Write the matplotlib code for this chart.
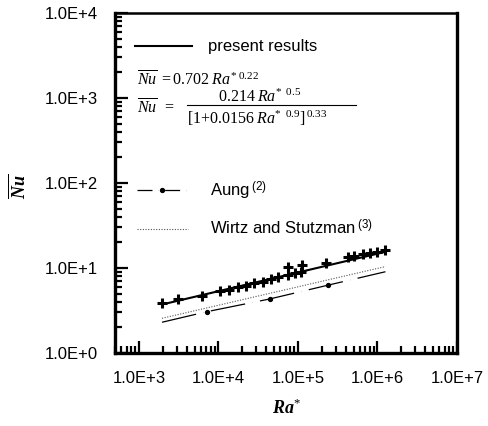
import numpy as np
import matplotlib
matplotlib.use("Agg")
import matplotlib.pyplot as plt
from matplotlib.lines import Line2D
from matplotlib.ticker import LogLocator, FuncFormatter, NullFormatter

plt.rcParams.update({
    "font.family": "Liberation Sans",
    "mathtext.fontset": "custom",
    "mathtext.rm": "Liberation Serif",
    "mathtext.it": "Liberation Serif:italic",
    "mathtext.bf": "Liberation Serif:bold",
    "mathtext.bfit": "Liberation Serif:bold:italic",
    "mathtext.sf": "Liberation Sans",
})

# measured points (present results)
ra_pts = [1950, 3080, 6170, 10400, 13500, 17400, 21900, 27700, 36000, 45300,
          55400, 74000, 76000, 93000, 108000, 114000, 222000, 420000, 500000,
          650000, 810000, 1000000, 1260000]
nu_pts = [3.84, 4.32, 4.72, 5.36, 5.51, 6.03, 6.18, 6.6, 6.9, 7.36,
          7.77, 10.4, 8.28, 8.66, 9.04, 10.8, 11.5, 13.6, 13.8,
          14.5, 15.1, 15.5, 16.3]

# correlation line of the present results (end points)
ra_fit = [1950, 1260000]
nu_fit = [3.72, 15.5]

# Aung (2)
ra_aung = [1950, 7130, 44000, 242000, 1260000]
nu_aung = [2.30, 3.06, 4.32, 6.30, 9.04]

# Wirtz and Stutzman (3)
ra_wirtz = [1950, 1260000]
nu_wirtz = [2.56, 10.4]


def sci_label(v, pos):
    return f"1.0E+{int(round(np.log10(v)))}"


fig = plt.figure(figsize=(4.89, 4.26), dpi=100)
ax = fig.add_axes([115 / 489, 1 - 353 / 426, 342 / 489, 340 / 426])

ax.plot(ra_fit, nu_fit, color="black", linewidth=1.5)
ax.plot(ra_pts, nu_pts, linestyle="none", marker="+", markersize=7.5,
        markeredgewidth=2.2, color="black")
ax.plot(ra_aung, nu_aung, color="black", linewidth=0.9,
        dashes=(28, 6, 0.1, 6), marker="o", markersize=2.8,
        markevery=[1, 2, 3])
ax.plot(ra_wirtz, nu_wirtz, color="#555555", linewidth=0.8,
        linestyle=(0, (1, 1.4)))

ax.set_xscale("log")
ax.set_yscale("log")
ax.set_xlim(500, 1e7)
ax.set_ylim(1, 1e4)

for a in (ax.xaxis, ax.yaxis):
    a.set_major_locator(LogLocator(base=10, numticks=10))
    a.set_minor_locator(LogLocator(base=10, subs=np.arange(2, 10), numticks=20))
    a.set_major_formatter(FuncFormatter(sci_label))
    a.set_minor_formatter(NullFormatter())

ax.tick_params(which="both", direction="in", top=False, right=False,
               labelsize=12, width=1.6)
ax.tick_params(which="major", length=9)
ax.tick_params(which="minor", length=5)
ax.tick_params(axis="x", which="major", pad=13)
ax.tick_params(axis="y", which="major", pad=12)

for side in ("left", "bottom", "right"):
    ax.spines[side].set_linewidth(2.4)
ax.spines["top"].set_linewidth(1.8)

ax.set_ylabel(r"$\overline{\mathbfit{Nu}}$", fontsize=13)
ax.yaxis.set_label_coords(-0.25, 0.49)
ax.set_xlabel(r"$\mathbfit{Ra}^{*}$", fontsize=13)
ax.xaxis.set_label_coords(0.5, -0.135)

# legend: present results
leg1 = ax.legend(handles=[Line2D([], [], color="black", linewidth=1.5)],
                 labels=["present results"], loc="center left",
                 bbox_to_anchor=(0.058, 0.90), frameon=False, fontsize=12,
                 handlelength=3.4, handletextpad=0.96, borderpad=0,
                 borderaxespad=0)
ax.add_artist(leg1)

# correlations
ax.text(0.064, 0.806, r"$\overline{Nu}\;=0.702\;Ra^{*\;0.22}$",
        transform=ax.transAxes, fontsize=11.5, va="center", ha="left")
ax.text(0.064, 0.722, r"$\overline{Nu}\;\;=$",
        transform=ax.transAxes, fontsize=11.5, va="center", ha="left")
ax.text(0.424, 0.755, r"$0.214\;Ra^{*\;\;0.5}$",
        transform=ax.transAxes, fontsize=11.5, va="center", ha="center")
ax.plot([0.211, 0.705], [0.730, 0.730], transform=ax.transAxes,
        color="black", linewidth=0.8)
ax.text(0.211, 0.690, r"$[1{+}0.0156\;Ra^{*\;\;0.9}]^{\,0.33}$",
        transform=ax.transAxes, fontsize=11.5, va="center", ha="left")

# legend: literature correlations
leg2 = ax.legend(
    handles=[Line2D([], [], color="black", linewidth=0.9,
                    dashes=(12, 5, 0.1, 5), marker="o", markersize=2.8),
             Line2D([], [], color="#555555", linewidth=0.8,
                    linestyle=(0, (1, 1.4)))],
    labels=[r"Aung$^{\;\mathsf{(2)}}$", r"Wirtz and Stutzman$^{\;\mathsf{(3)}}$"],
    loc="upper left", bbox_to_anchor=(0.064, 0.51), frameon=False,
    fontsize=12, handlelength=3.06, handletextpad=1.3, borderpad=0,
    borderaxespad=0, labelspacing=1.0, numpoints=1)

fig.savefig("out.png", dpi=100)
